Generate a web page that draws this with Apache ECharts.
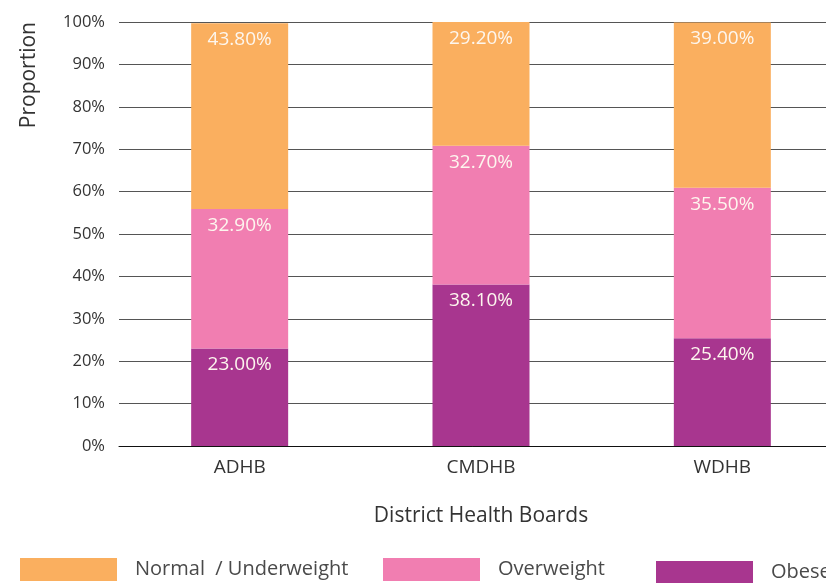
<!DOCTYPE html>
<html>
<head>
<meta charset="utf-8">
<script src="https://cdn.jsdelivr.net/npm/echarts@6/dist/echarts.min.js"></script>
<style>
  html, body { margin: 0; padding: 0; background: #fff; }
  #chart { width: 826px; height: 583px; }
</style>
</head>
<body>
<div id="chart"></div>
<script>
// boards on the x axis
const boards = ['ADHB', 'CMDHB', 'WDHB']
// proportions (%) per weight group, bottom to top
const obese = [23.0, 38.1, 25.4]
const overweight = [32.9, 32.7, 35.5]
const normal = [43.8, 29.2, 39.0]
const yTicks = [0, 10, 20, 30, 40, 50, 60, 70, 80, 90, 100]

const colors = {
  normal: '#FAAF5F',
  overweight: '#F17EB1',
  obese: '#A8368F'
}
const font = 'Open Sans'

function makeSeries(name, data, color) {
  return {
    name: name,
    type: 'bar',
    stack: 'total',
    barWidth: 97,
    data: data,
    itemStyle: { color: color },
    label: {
      show: true,
      position: 'insideTop',
      distance: 7,
      color: '#fdf6ee',
      fontFamily: font,
      fontSize: 19,
      formatter: p => p.value.toFixed(2) + '%'
    }
  }
}

function makeLegend(name, left, top) {
  return {
    data: [name],
    left: left,
    top: top,
    padding: 0,
    itemWidth: 97,
    itemHeight: 23,
    icon: 'rect',
    selectedMode: false,
    textStyle: {
      fontFamily: font,
      fontSize: 20,
      color: '#4a4a4a',
      padding: [5, 0, 0, 13]
    }
  }
}

const chart = echarts.init(document.getElementById('chart'))
chart.setOption({
  animation: false,
  grid: { left: 119, right: -17, top: 22, bottom: 137, outerBoundsMode: 'none' },
  legend: [
    makeLegend('Normal  / Underweight', 20, 558),
    makeLegend('Overweight', 383, 558),
    makeLegend('Obese', 656, 561)
  ],
  graphic: [{
    type: 'text',
    left: 19,
    top: 22,
    rotation: Math.PI / 2,
    style: {
      text: 'Proportion',
      fontFamily: font,
      fontSize: 21,
      fill: '#333'
    }
  }],
  xAxis: {
    type: 'category',
    data: boards,
    name: 'District Health Boards',
    nameLocation: 'middle',
    nameGap: 60,
    nameTextStyle: { fontFamily: font, fontSize: 21, color: '#333' },
    axisTick: { show: false },
    axisLine: { lineStyle: { color: '#111', width: 1 } },
    axisLabel: { fontFamily: font, fontSize: 19, color: '#333', margin: 12 }
  },
  yAxis: {
    type: 'value',
    min: yTicks[0],
    max: yTicks[yTicks.length - 1],
    interval: 10,
    axisLine: { show: false },
    axisTick: { show: false },
    splitLine: { lineStyle: { color: '#555', width: 1 } },
    axisLabel: {
      fontFamily: font,
      fontSize: 16.5,
      color: '#333',
      margin: 14,
      formatter: v => v + '%'
    }
  },
  series: [
    makeSeries('Obese', obese, colors.obese),
    makeSeries('Overweight', overweight, colors.overweight),
    makeSeries('Normal  / Underweight', normal, colors.normal)
  ]
})
</script>
</body>
</html>
